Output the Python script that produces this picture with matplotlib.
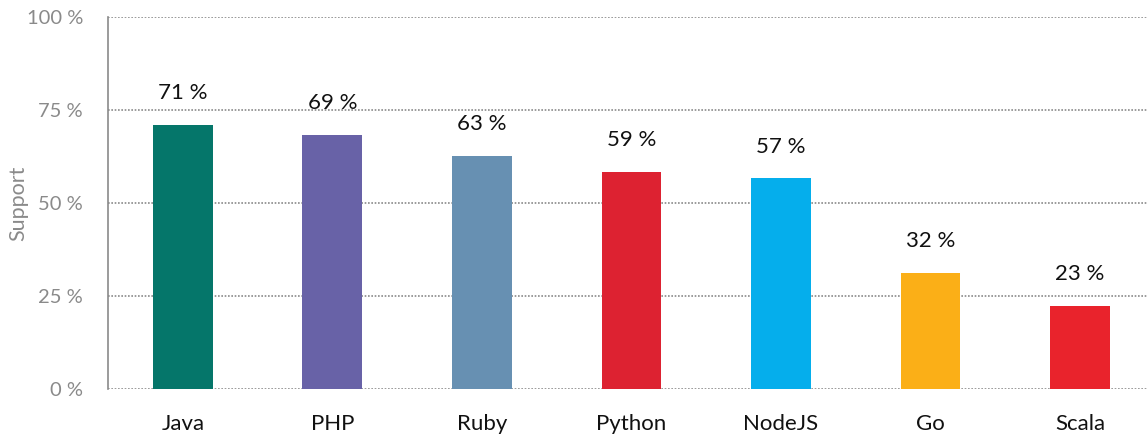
import matplotlib
matplotlib.use("Agg")
import matplotlib.pyplot as plt
import numpy as np

languages = ["Java", "PHP", "Ruby", "Python", "NodeJS", "Go", "Scala"]
support = [71.0, 68.3, 62.6, 58.3, 56.6, 31.3, 22.4]
value_labels = ["71 %", "69 %", "63 %", "59 %", "57 %", "32 %", "23 %"]
colors = ["#05766A", "#6862A7", "#6790B2", "#DD2231", "#05AEEC", "#FBAF17", "#E9232C"]
yticks = [0, 25, 50, 75, 100]

plt.rcParams["font.family"] = ["Lato", "DejaVu Sans"]

fig = plt.figure(figsize=(11.47, 4.38), dpi=100)
ax = fig.add_axes([0.0942, 0.112, 0.91, 0.849])

x = np.arange(len(languages))
bars = ax.bar(x, support, width=0.4, color=colors, zorder=3)

for b, lab in zip(bars, value_labels):
    ax.annotate(lab, (b.get_x() + b.get_width() / 2, b.get_height()),
                xytext=(0, 23), textcoords="offset points",
                ha="center", va="center", fontsize=16, color="#111111")

ax.set_xlim(-0.5, 6.48)
ax.set_ylim(0, 100)
ax.set_yticks(yticks)
ax.set_yticklabels([f"{t} %" for t in yticks])
ax.set_xticks(x)
ax.set_xticklabels(languages)
ax.tick_params(axis="y", length=0, pad=18, labelsize=14.5, labelcolor="#8a8a8a")
ax.tick_params(axis="x", length=0, pad=18, labelsize=16, labelcolor="#111111")

ax.grid(axis="y", color="#8a8a8a", linestyle=(0, (1, 1)), linewidth=1.2, zorder=0)
for s in ["top", "right", "bottom"]:
    ax.spines[s].set_visible(False)
ax.spines["left"].set_color("#8a8a8a")
ax.spines["left"].set_linewidth(1.2)

ax.set_ylabel("Support", fontsize=15.5, color="#8a8a8a")
ax.yaxis.set_label_coords(-0.076, 0.5)

fig.savefig("out.png", dpi=100)
